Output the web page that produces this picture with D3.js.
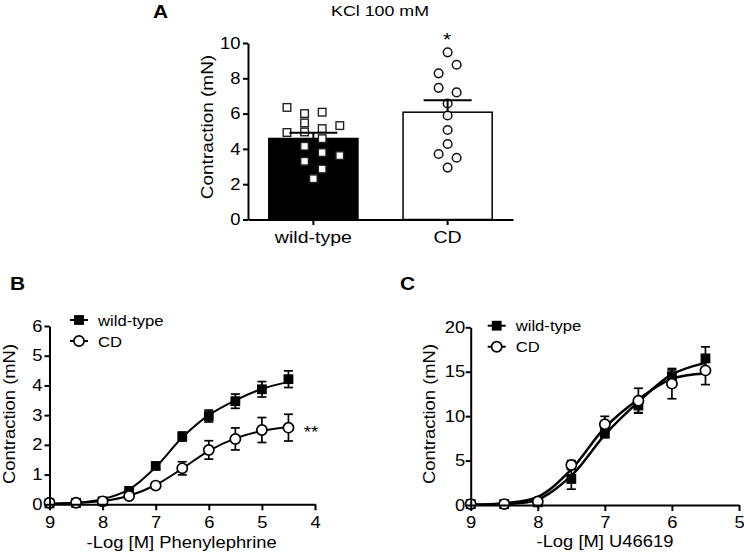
<!DOCTYPE html>
<html><head><meta charset="utf-8">
<script src="https://cdn.jsdelivr.net/npm/d3@7"></script>
<style>
body{margin:0;background:#fff}
svg text{font-family:"Liberation Sans",Arial,Helvetica,sans-serif;fill:#000}
</style></head><body>
<svg id="chart" width="744" height="556"></svg>
<script>
// ---------- Panel A: KCl 100 mM ----------
const kclCategories = ["wild-type", "CD"];
const kclYTicks = [0, 2, 4, 6, 8, 10];
const kclWildType = [6.35, 6.0, 6.08, 5.47, 4.93, 4.96, 5.15, 5.32, 4.58, 4.15, 3.79, 3.62, 3.3, 2.86, 2.31];
const kclWildTypeCol = [-3, -1, 1, -1, -3, -1, 1, 3, 1, -1, 1, 3, -1, 1, 0];
const kclCD = [9.47, 8.77, 8.28, 7.46, 7.2, 6.57, 5.89, 5.07, 4.28, 3.71, 3.5, 2.94];
const kclCDCol = [0, 1, -1, -1, 1, 0, 0, 0, 0, -1, 1, 0];
const kclMean = [4.59, 6.08];
const kclSEM = [0.33, 0.68];

// ---------- Panel B: Phenylephrine ----------
const pheDose = [9, 8.5, 8, 7.5, 7, 6.5, 6, 5.5, 5, 4.5];
const pheXTicks = [9, 8, 7, 6, 5, 4];
const pheYTicks = [0, 1, 2, 3, 4, 5, 6];
const pheWT    = [0.03, 0.05, 0.1, 0.45, 1.29, 2.28, 2.97, 3.47, 3.87, 4.21];
const pheWTErr = [0.02, 0.03, 0.03, 0.08, 0.1, 0.15, 0.2, 0.24, 0.26, 0.28];
const pheCD    = [0.05, 0.05, 0.1, 0.28, 0.63, 1.21, 1.83, 2.2, 2.5, 2.58];
const pheCDErr = [0.02, 0.03, 0.03, 0.05, 0.07, 0.22, 0.31, 0.37, 0.42, 0.45];
const pheWTFit = [0.02, 0.05, 0.17, 0.5, 1.25, 2.25, 3.0, 3.5, 3.88, 4.12];
const pheCDFit = [0.02, 0.04, 0.11, 0.29, 0.65, 1.2, 1.8, 2.22, 2.47, 2.6];

// ---------- Panel C: U46619 ----------
const uDose = [9, 8.5, 8, 7.5, 7, 6.5, 6, 5.5];
const uXTicks = [9, 8, 7, 6, 5];
const uYTicks = [0, 5, 10, 15, 20];
const uWT    = [0.1, 0.1, 0.3, 2.93, 8.07, 11.2, 14.5, 16.5];
const uWTErr = [0.1, 0.1, 0.2, 1.15, 0.5, 0.8, 0.7, 1.3];
const uCD    = [0.1, 0.1, 0.4, 4.5, 9.08, 11.74, 13.66, 15.15];
const uCDErr = [0.1, 0.1, 0.2, 0.5, 0.9, 1.4, 1.7, 1.6];
const uWTFit = [0.02, 0.1, 0.6, 3.3, 7.9, 11.6, 14.7, 16.0];
const uCDFit = [0.03, 0.2, 0.9, 4.0, 8.7, 11.9, 14.2, 14.8];

const SX = 1.15;
const svg = d3.select("#chart");

function label(x, y, s, o = {}) {
  const size = o.size || 16, anchor = o.anchor || "start";
  return svg.append("text")
    .attr("transform", `translate(${x},${y})` + (o.rotate ? ` rotate(${o.rotate})` : "") + ` scale(${o.sx || SX},1)`)
    .attr("text-anchor", anchor)
    .style("font-size", size + "px")
    .style("font-weight", o.weight || "normal")
    .text(s);
}

function styleAxis(g, size, sw) {
  g.attr("font-family", null).attr("font-size", null);
  g.select(".domain").attr("stroke", "#000").attr("stroke-width", sw);
  g.selectAll(".tick line").attr("stroke", "#000").attr("stroke-width", sw);
  g.selectAll(".tick text").style("font-size", size + "px").attr("fill", "#000")
    .each(function () {
      const t = d3.select(this);
      const x = +t.attr("x") || 0;
      t.attr("x", x / SX).attr("transform", `scale(${SX},1)`);
    });
}

// ================= Panel A =================
const ax = d3.scaleBand().domain(kclCategories).range([248, 513]).paddingInner(0.336).paddingOuter(0.155);
const ay = d3.scaleLinear().domain([0, 10]).range([219.5, 43]);

svg.append("g").selectAll("rect").data(kclCategories).join("rect")
  .attr("x", d => ax(d)).attr("width", ax.bandwidth())
  .attr("y", (d, i) => ay(kclMean[i])).attr("height", (d, i) => ay(0) - ay(kclMean[i]))
  .attr("fill", (d, i) => i === 0 ? "#000" : "#fff")
  .attr("stroke", "#000").attr("stroke-width", 1.5);

const unitA = 8.8;
const cxWT = ax("wild-type") + ax.bandwidth() / 2;
const cxCD = ax("CD") + ax.bandwidth() / 2;
const sq = 7.6;
svg.append("g").selectAll("rect").data(kclWildType).join("rect")
  .attr("x", (d, i) => cxWT + kclWildTypeCol[i] * unitA - sq / 2)
  .attr("y", d => ay(d) - sq / 2)
  .attr("width", sq).attr("height", sq)
  .attr("fill", "#fff").attr("stroke", "#222").attr("stroke-width", 1.4);
svg.append("g").selectAll("circle").data(kclCD).join("circle")
  .attr("cx", (d, i) => cxCD + kclCDCol[i] * 9)
  .attr("cy", d => ay(d)).attr("r", 4.3)
  .attr("fill", "#fff").attr("stroke", "#111").attr("stroke-width", 1.5);

// mean + SEM bars
const errA = svg.append("g").attr("stroke", "#000").attr("stroke-width", 2);
kclCategories.forEach((c, i) => {
  const cx = ax(c) + ax.bandwidth() / 2;
  errA.append("line").attr("x1", cx).attr("x2", cx).attr("y1", ay(kclMean[i])).attr("y2", ay(kclMean[i] + kclSEM[i]));
  errA.append("line").attr("x1", cx - 24).attr("x2", cx + 24).attr("y1", ay(kclMean[i] + kclSEM[i])).attr("y2", ay(kclMean[i] + kclSEM[i]));
});

const gAy = svg.append("g").attr("transform", "translate(248,0)")
  .call(d3.axisLeft(ay).tickValues(kclYTicks).tickSize(5).tickPadding(2.5).tickSizeOuter(0));
styleAxis(gAy, 16, 2);
const gAx = svg.append("g").attr("transform", `translate(0,${ay(0)})`)
  .call(d3.axisBottom(ax).tickSize(5.5).tickPadding(6).tickSizeOuter(0));
styleAxis(gAx, 17, 2);

label(380, 15.5, "KCl 100 mM", {anchor: "middle", size: 15.5});
label(153, 18, "A", {size: 19, weight: "bold", sx: 1.1});
label(213, 127, "Contraction (mN)", {anchor: "middle", rotate: -90, size: 16.5});
label(447, 46, "*", {anchor: "middle", size: 19, sx: 1.1});

// ================= dose-response helper =================
function doseResponse(cfg) {
  const x = d3.scaleLinear().domain(cfg.xDomain).range(cfg.xRange);
  const y = d3.scaleLinear().domain(cfg.yDomain).range(cfg.yRange);
  const line = d3.line().x(d => x(d[0])).y(d => y(d[1])).curve(d3.curveCatmullRom.alpha(0.5));
  const g = svg.append("g");
  [cfg.wtFit, cfg.cdFit].forEach(fit => {
    g.append("path").datum(cfg.dose.map((d, i) => [d, fit[i]]))
      .attr("d", line).attr("fill", "none").attr("stroke", "#000").attr("stroke-width", cfg.lw);
  });
  const cap = 4.5;
  [[cfg.wt, cfg.wtErr], [cfg.cd, cfg.cdErr]].forEach(([v, e]) => {
    const eg = g.append("g").attr("stroke", "#000").attr("stroke-width", 1.7);
    cfg.dose.forEach((d, i) => {
      const xx = x(d), y1 = y(v[i] + e[i]), y2 = y(Math.max(0, v[i] - e[i]));
      eg.append("line").attr("x1", xx).attr("x2", xx).attr("y1", y1).attr("y2", y2);
      eg.append("line").attr("x1", xx - cap).attr("x2", xx + cap).attr("y1", y1).attr("y2", y1);
      eg.append("line").attr("x1", xx - cap).attr("x2", xx + cap).attr("y1", y2).attr("y2", y2);
    });
  });
  const s = 9.8;
  g.append("g").selectAll("rect").data(cfg.wt).join("rect")
    .attr("x", (d, i) => x(cfg.dose[i]) - s / 2).attr("y", d => y(d) - s / 2)
    .attr("width", s).attr("height", s).attr("fill", "#000");
  g.append("g").selectAll("circle").data(cfg.cd).join("circle")
    .attr("cx", (d, i) => x(cfg.dose[i])).attr("cy", d => y(d)).attr("r", 5.1)
    .attr("fill", "#fff").attr("stroke", "#000").attr("stroke-width", 1.7);

  const gy = svg.append("g").attr("transform", `translate(${cfg.xRange[0]},0)`)
    .call(d3.axisLeft(y).tickValues(cfg.yTicks).tickFormat(d3.format("d")).tickSize(5).tickPadding(cfg.yPad).tickSizeOuter(0));
  styleAxis(gy, 16, 2);
  const gx = svg.append("g").attr("transform", `translate(0,${cfg.yRange[0]})`)
    .call(d3.axisBottom(x).tickValues(cfg.xTicks).tickFormat(d3.format("d")).tickSize(6).tickPadding(6).tickSizeOuter(0));
  styleAxis(gx, 16, 2);

  // legend
  const lx = cfg.legend[0], ly = cfg.legend[1];
  svg.append("line").attr("x1", lx - 9).attr("x2", lx + 9).attr("y1", ly).attr("y2", ly).attr("stroke", "#000").attr("stroke-width", 2);
  svg.append("rect").attr("x", lx - s / 2).attr("y", ly - s / 2).attr("width", s).attr("height", s).attr("fill", "#000");
  svg.append("line").attr("x1", lx - 9).attr("x2", lx + 9).attr("y1", ly + 21).attr("y2", ly + 21).attr("stroke", "#000").attr("stroke-width", 2);
  svg.append("circle").attr("cx", lx).attr("cy", ly + 21).attr("r", 5.1).attr("fill", "#fff").attr("stroke", "#000").attr("stroke-width", 1.7);
  label(lx + 19, ly + 5.5, "wild-type", {size: 15, sx: 1.11});
  label(lx + 19, ly + 26.5, "CD", {size: 15, sx: 1.11});
  return {x, y};
}

// ================= Panel B =================
doseResponse({
  dose: pheDose, wt: pheWT, wtErr: pheWTErr, cd: pheCD, cdErr: pheCDErr,
  wtFit: pheWTFit, cdFit: pheCDFit,
  xDomain: [9, 4], xRange: [49.5, 315], yDomain: [0, 6], yRange: [504.3, 326],
  xTicks: pheXTicks, yTicks: pheYTicks, yPad: 2, lw: 2, legend: [79, 320]
});
label(10, 290, "B", {size: 19, weight: "bold", sx: 1.1});
label(15, 414, "Contraction (mN)", {anchor: "middle", rotate: -90, size: 16});
label(181.7, 548.3, "-Log [M] Phenylephrine", {anchor: "middle", size: 16});
label(311, 438, "**", {anchor: "middle", size: 17, sx: 1.1});

// ================= Panel C =================
doseResponse({
  dose: uDose, wt: uWT, wtErr: uWTErr, cd: uCD, cdErr: uCDErr,
  wtFit: uWTFit, cdFit: uCDFit,
  xDomain: [9, 5], xRange: [470.7, 739], yDomain: [0, 20], yRange: [505, 327.3],
  xTicks: uXTicks, yTicks: uYTicks, yPad: 0.5, lw: 2.5, legend: [496.7, 325.7]
});
label(400, 290, "C", {size: 19, weight: "bold", sx: 1.1});
label(435, 414, "Contraction (mN)", {anchor: "middle", rotate: -90, size: 16});
label(605, 546.7, "-Log [M] U46619", {anchor: "middle", size: 16});
</script>
</body></html>
